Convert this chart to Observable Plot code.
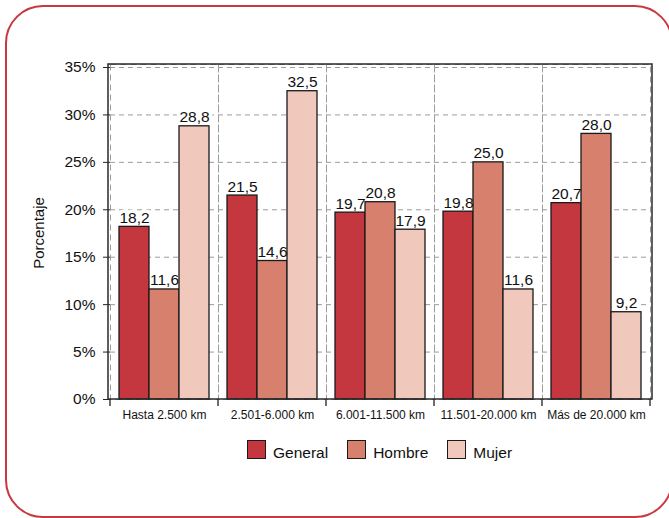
<!DOCTYPE html>
<html>
<head>
<meta charset="utf-8">
<script src="https://cdn.jsdelivr.net/npm/d3@7"></script>
<script src="https://cdn.jsdelivr.net/npm/@observablehq/plot@0.6"></script>
<style>
  html, body { margin: 0; padding: 0; background: #fff; }
  body { width: 669px; height: 518px; overflow: hidden; position: relative;
         font-family: "Liberation Sans", Arial, Helvetica, sans-serif; color: #111; }
  #border { position: absolute; left: 5px; top: 5px; width: 668px; height: 513px;
            box-sizing: border-box; border: 2.5px solid #c8393f; border-radius: 38px; }
  #chart { position: absolute; left: 0; top: 0; }
  #ylabel { position: absolute; left: 37.5px; top: 233px; transform: translate(-50%, -50%) rotate(-90deg);
            font-size: 15px; white-space: nowrap; }
  #legend { position: absolute; left: 247px; top: 440px; display: flex; gap: 19px; font-size: 15.5px; }
  .item { display: flex; align-items: center; }
  .sw { width: 19px; height: 19px; box-sizing: border-box; border: 1.5px solid #1a1a1a; margin-right: 7px; }
  .lt { position: relative; top: 3px; }
</style>
</head>
<body>
<div id="border"></div>
<div id="chart"></div>
<div id="ylabel">Porcentaje</div>
<div id="legend"></div>
<script>
const categories = ["Hasta 2.500 km", "2.501-6.000 km", "6.001-11.500 km", "11.501-20.000 km", "Más de 20.000 km"];
const series = ["General", "Hombre", "Mujer"];
const general = [18.2, 21.5, 19.7, 19.8, 20.7];
const hombre  = [11.6, 14.6, 20.8, 25.0, 28.0];
const mujer   = [28.8, 32.5, 17.9, 11.6, 9.2];
const yTicks = [0, 5, 10, 15, 20, 25, 30, 35];
const colors = ["#c4373f", "#d8806e", "#f0c9bc"];

const values = {General: general, Hombre: hombre, Mujer: mujer};
const data = categories.flatMap((c, i) => series.map(s => ({cat: c, serie: s, value: values[s][i]})));
const fmt = v => v.toFixed(1).replace(".", ",");

const W = 669, H = 430, ML = 108, MR = 17, MT = 64, MB = 31;

const plot = Plot.plot({
  width: W, height: H,
  marginLeft: ML, marginRight: MR, marginTop: MT, marginBottom: MB,
  style: {fontFamily: "'Liberation Sans', Arial, Helvetica, sans-serif", color: "#111", background: "transparent", overflow: "visible"},
  fx: {domain: categories, padding: 0},
  x: {domain: series, paddingInner: 0, paddingOuter: 0.3},
  y: {domain: [0, 35], insetTop: 3},
  color: {domain: series, range: colors},
  marks: [
    Plot.ruleY(yTicks.filter(d => d > 0), {stroke: "#9c9c9c", strokeWidth: 1, strokeDasharray: "5,4"}),
    Plot.frame({stroke: "#9c9c9c", strokeWidth: 1, strokeDasharray: "6,4"}),
    Plot.text(data, {fx: "cat", x: "serie", y: "value", text: d => fmt(d.value), lineAnchor: "bottom", dy: -4,
      fontSize: 15.5, fill: "white", stroke: "white", strokeWidth: 7}),
    Plot.barY(data, {fx: "cat", x: "serie", y: "value", fill: "serie", stroke: "#1a1a1a", strokeWidth: 1.3}),
    Plot.text(data, {fx: "cat", x: "serie", y: "value", text: d => fmt(d.value), lineAnchor: "bottom", dy: -4,
      fontSize: 15.5, fill: "#111"}),
    Plot.axisY({ticks: yTicks, tickFormat: d => d + "%", tickSize: 7, tickPadding: 8, fontSize: 15.5, label: null, stroke: "#222"}),
    Plot.axisFx({anchor: "bottom", tickSize: 0, tickPadding: 11, fontSize: 12, label: null}),
    Plot.axisX({ticks: [], label: null})
  ]
});
document.getElementById("chart").appendChild(plot);

// Outer solid frame and group boundary ticks, placed with the fx scale
const fxs = plot.scale("fx");
const svg = d3.select(plot);
const bounds = categories.map(c => fxs.apply(c));
bounds.push(fxs.apply(categories[categories.length - 1]) + fxs.bandwidth);
svg.append("g").selectAll("line").data(bounds).join("line")
  .attr("x1", d => d).attr("x2", d => d)
  .attr("y1", H - MB).attr("y2", H - MB + 7)
  .attr("stroke", "#222").attr("stroke-width", 1.3);
svg.append("rect")
  .attr("x", ML).attr("y", MT).attr("width", W - ML - MR).attr("height", H - MT - MB)
  .attr("fill", "none").attr("stroke", "#2a2a2a").attr("stroke-width", 1.5);

// Legend
const lg = document.getElementById("legend");
series.forEach((s, i) => {
  const it = document.createElement("div"); it.className = "item";
  const sw = document.createElement("div"); sw.className = "sw"; sw.style.background = colors[i];
  const t = document.createElement("span"); t.className = "lt"; t.textContent = s;
  it.appendChild(sw); it.appendChild(t); lg.appendChild(it);
});
</script>
</body>
</html>
